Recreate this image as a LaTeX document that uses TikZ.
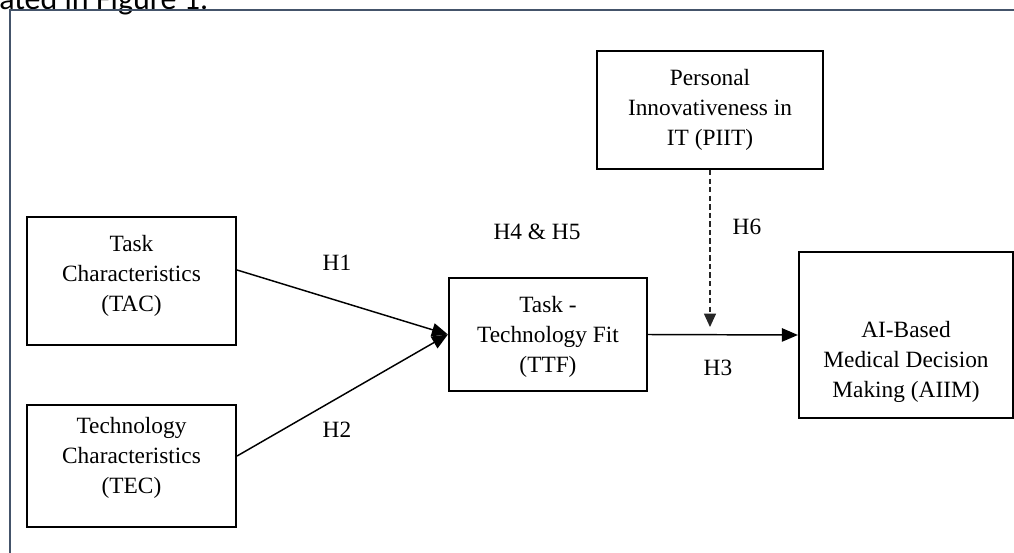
\documentclass[tikz,border=0pt]{standalone}
\usepackage{fontspec}
\setmainfont{Liberation Serif}
\newfontfamily\bodyfont{Carlito}
\usetikzlibrary{arrows.meta,calc}
\definecolor{framecol}{RGB}{68,84,106}
\tikzset{
  box/.style={draw=black, line width=1.6pt, inner sep=0pt},
  txt/.style={align=center, font=\fontsize{17.5}{22.5}\selectfont, inner sep=0pt},
  lbl/.style={font=\fontsize{17.5}{22}\selectfont, inner sep=0pt},
  conn/.style={draw=black, line width=1.1pt, -{Triangle[length=12pt,width=10pt]}},
  modconn/.style={draw=black!85, line width=0.8pt, dash pattern=on 4pt off 2.4pt, -{Triangle[length=10pt,width=9pt]}}
}
\begin{document}
\begin{tikzpicture}[x=0.75pt,y=-0.75pt]
\useasboundingbox (0,0) rectangle (1014,553);
\clip (0,0) rectangle (1014,553);
% page text and frame
\node[anchor=base west, inner sep=0pt, font=\bodyfont\fontsize{24}{28}\selectfont] (pagetext) at (-1,9) {ated in Figure 1.};
\draw[framecol, line width=1.1pt] (10,560) -- (10,10) -- (1020,10);
% boxes
\node[box, minimum width=209*0.75pt, minimum height=128*0.75pt] (tac) at (131.5,281) {};
\node[txt] (tact) at (131.5,276) {Task\\Characteristics\\(TAC)};
\node[box, minimum width=209*0.75pt, minimum height=122*0.75pt] (tec) at (131.5,466) {};
\node[txt] (tect) at (131.5,458) {Technology\\Characteristics\\(TEC)};
\node[box, minimum width=198*0.75pt, minimum height=113*0.75pt] (ttf) at (548,334.5) {};
\node[txt] (ttft) at (548,337) {Task -\\Technology Fit\\(TTF)};
\node[box, minimum width=226*0.75pt, minimum height=118*0.75pt] (piit) at (710,110) {};
\node[txt] (piitt) at (710,110) {Personal\\Innovativeness in\\IT (PIIT)};
\node[box, minimum width=214*0.75pt, minimum height=166*0.75pt] (aiim) at (906,335) {};
\node[txt] (aiimt) at (906,362) {AI-Based\\Medical Decision\\Making (AIIM)};
% connectors
\draw[conn] ([yshift=8.25pt]tac.east) -- (ttf.west);
\draw[conn] ([yshift=7.5pt]tec.east) -- (ttf.west);
\draw[conn] (ttf.east) -- (aiim.west);
\coordinate (mod) at (710,327);
\draw[modconn] (piit.south) -- (mod);
% labels
\node[lbl] (h1) at (337,263) {H1};
\node[lbl] (h2) at (337,430) {H2};
\node[lbl] (h45) at (537,232) {H4 \& H5};
\node[lbl] (h6) at (747,227) {H6};
\node[lbl] (h3) at (718,368) {H3};
\end{tikzpicture}
\end{document}
